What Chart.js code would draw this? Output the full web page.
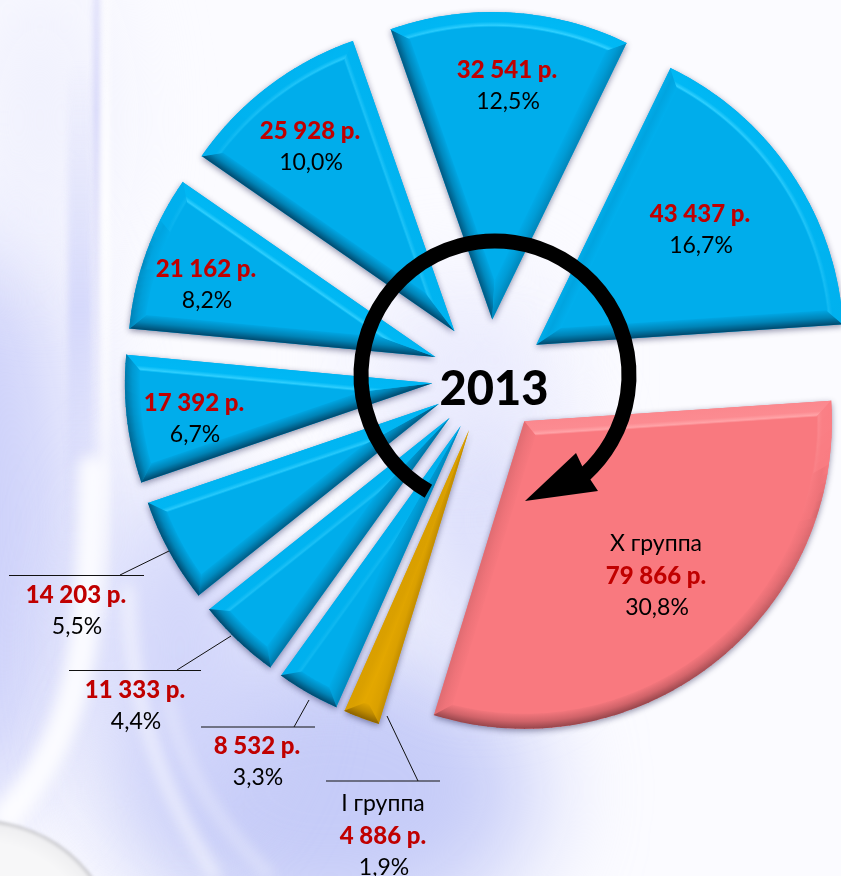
<!DOCTYPE html>
<html><head><meta charset="utf-8">
<style>html,body{margin:0;padding:0;background:#fff}canvas{display:block}</style>
<script src="https://cdn.jsdelivr.net/npm/chart.js@4"></script>
</head><body><canvas id="c" width="841" height="876"></canvas>
<script>
const categories = ['X группа','I группа','II группа','III группа','IV группа','V группа','VI группа','VII группа','VIII группа','IX группа'];
const rubles = [79866,4886,8532,11333,14203,17392,21162,25928,32541,43437];
const rubleLabels = ['79 866 р.','4 886 р.','8 532 р.','11 333 р.','14 203 р.','17 392 р.','21 162 р.','25 928 р.','32 541 р.','43 437 р.'];
const shareLabels = ['30,8%','1,9%','3,3%','4,4%','5,5%','6,7%','8,2%','10,0%','12,5%','16,7%'];
const groupNames = ['X группа','I группа','','','','','','','',''];
const sliceColors = ['#F9797F','#E2A600','#00ADEB','#00ADEB','#00ADEB','#00ADEB','#00ADEB','#00ADEB','#00ADEB','#00ADEB'];
const yearLabel = '2013';

const FONT = '"Lato","Open Sans",sans-serif';
const EXPLODE = 57, BEVEL = 15;
const labelCenters = [[656,544],[383,804],[257,746],[135,690],[76,595],[194,403],[206,269],[310,131],[507,70],[700,214]];
const LINE_GAP = 32;
const leaders = [null,[[326,781,440,781],[418,781,387,716]],[[201,727,315,727],[294,727,309,700]],[[69,670.5,201,670.5],[177,670,231,636]],[[9,575.5,144,575.5],[120,575,169,551]]];

const palette = {
 '#00ADEB':{hi:[48,208,255],lt:[0,186,246],dk:[0,62,96]},
 '#F9797F':{hi:[255,166,170],lt:[252,142,148],dk:[140,64,70]},
 '#E2A600':{hi:[255,190,0],lt:[246,182,0],dk:[130,92,0]}
};
const hex=h=>[1,3,5].map(i=>parseInt(h.substr(i,2),16));
const mix=(a,b,t)=>`rgb(${a.map((v,i)=>Math.round(v+(b[i]-v)*t)).join(',')})`;
const LIGHT=[0.3,-0.95];
function addStops(g,base,p,k){
  const s=(t,c)=>g.addColorStop(t,c);
  if(k>=0.15){ s(0,mix(base,p.lt,k*.4)); s(.12,mix(base,p.hi,k)); s(.36,mix(base,p.lt,k*.9)); s(1,mix(base,p.lt,k*.75)); }
  else if(k>=0){ s(0,mix(base,p.lt,k)); s(.6,mix(base,p.dk,.08)); s(1,mix(base,p.dk,.35*(1-k/.15))); }
  else { const m=Math.min(1,-k+.25); s(0,mix(base,p.dk,m*.06)); s(.5,mix(base,p.dk,m*.38)); s(1,mix(base,p.dk,m*.9)); }
}
const bevelPlugin={
 id:'bevel',
 afterDatasetsUpdate(chart){
  chart.getDatasetMeta(0).data.forEach(el=>{
    const m=(el.startAngle+el.endAngle)/2;
    el.x=chart.chartArea.left+chart.chartArea.width/2+Math.cos(m)*EXPLODE;
    el.y=chart.chartArea.top+chart.chartArea.height/2+Math.sin(m)*EXPLODE;
  });
 },
 beforeDatasetsDraw(chart){
  const c=chart.ctx; c.save();
  c.shadowColor='rgba(10,10,60,.45)'; c.shadowBlur=6; c.shadowOffsetX=0; c.shadowOffsetY=2;
 },
 afterDatasetsDraw(chart){
  const c=chart.ctx; c.restore();
  chart.getDatasetMeta(0).data.forEach((el,i)=>{
    const col=sliceColors[i], base=hex(col), p=palette[col];
    const a0=el.startAngle,a1=el.endAngle,R=el.outerRadius,Ax=el.x,Ay=el.y;
    const half=(a1-a0)/2, mid=(a0+a1)/2, b=BEVEL, d=b/Math.sin(half), r=R-b;
    const IAx=Ax+Math.cos(mid)*d, IAy=Ay+Math.sin(mid)*d;
    const t=-d*Math.cos(half)+Math.sqrt(r*r-b*b);
    const I0x=IAx+Math.cos(a0)*t,I0y=IAy+Math.sin(a0)*t,I1x=IAx+Math.cos(a1)*t,I1y=IAy+Math.sin(a1)*t;
    const ai0=Math.atan2(I0y-Ay,I0x-Ax), ai1=Math.atan2(I1y-Ay,I1x-Ax);
    let ai0u=ai0; while(ai0u<a0-1)ai0u+=2*Math.PI; while(ai0u>a0+1)ai0u-=2*Math.PI;
    let ai1u=ai1; while(ai1u<a1-1)ai1u+=2*Math.PI; while(ai1u>a1+1)ai1u-=2*Math.PI;
    const strip=(ang,sgn,Ix,Iy)=>{
      const nx=Math.cos(ang+sgn*Math.PI/2),ny=Math.sin(ang+sgn*Math.PI/2);
      const k=nx*LIGHT[0]+ny*LIGHT[1];
      const g=c.createLinearGradient(Ax-nx*b,Ay-ny*b,Ax,Ay);
      addStops(g,base,p,k);
      c.beginPath();c.moveTo(Ax,Ay);c.lineTo(Ax+Math.cos(ang)*R,Ay+Math.sin(ang)*R);
      c.lineTo(Ix,Iy);c.lineTo(IAx,IAy);c.closePath();c.fillStyle=g;c.fill();
    };
    strip(a0,-1,I0x,I0y); strip(a1,1,I1x,I1y);
    const N=Math.max(6,Math.ceil((a1-a0)/0.03));
    for(let n=0;n<N;n++){
      const u0=n/N,u1=(n+1)/N,o0=a0+(a1-a0)*u0,o1=a0+(a1-a0)*u1,
            q0=ai0u+(ai1u-ai0u)*u0,q1=ai0u+(ai1u-ai0u)*u1,om=(o0+o1)/2;
      const k=Math.cos(om)*LIGHT[0]+Math.sin(om)*LIGHT[1];
      const g=c.createRadialGradient(Ax,Ay,r,Ax,Ay,R);
      addStops(g,base,p,k);
      c.beginPath();c.arc(Ax,Ay,R,o0-.002,o1+.002);c.arc(Ax,Ay,r,q1+.002,q0-.002,true);c.closePath();c.fillStyle=g;c.fill();
    }
  });
  drawArrow(chart); drawText(chart);
 }
};
function drawArrow(chart){
  const c=chart.ctx; c.save();
  c.strokeStyle='#000'; c.lineWidth=15; c.lineCap='butt';
  c.beginPath(); c.arc(495,375,134,119.8*Math.PI/180,408*Math.PI/180); c.stroke();
  c.fillStyle='#000'; c.beginPath(); c.moveTo(525,501); c.lineTo(576,453); c.lineTo(584,470); c.lineTo(598,491); c.closePath(); c.fill();
  c.restore();
}
function drawText(chart){
  const c=chart.ctx; c.save();
  c.textAlign='center'; c.textBaseline='middle';
  c.strokeStyle='#111'; c.lineWidth=1;
  leaders.forEach(l=>{ if(!l)return; l.forEach(s=>{c.beginPath();c.moveTo(s[0],s[1]);c.lineTo(s[2],s[3]);c.stroke();}); });
  labelCenters.forEach((p,i)=>{
    let y=p[1];
    if(groupNames[i]){ c.font='23px '+FONT; c.fillStyle='#000'; c.fillText(groupNames[i],p[0],y); y+=LINE_GAP; }
    c.font='900 24px '+FONT; c.fillStyle='#C00000'; c.fillText(rubleLabels[i],p[0],y); y+=LINE_GAP;
    c.font='23px '+FONT; c.fillStyle='#000'; c.fillText(shareLabels[i],p[0]+1,y);
  });
  c.font='900 47px '+FONT; c.fillStyle='#000'; c.fillText(yearLabel,494,390);
  c.restore();
}
const bgPlugin={
 id:'bg',
 beforeDraw(chart){
  const c=chart.ctx,W=841,H=876; c.save();
  c.fillStyle='#FBFBFF'; c.fillRect(0,0,W,H);
  const blob=(x,y,rx,ry,col)=>{c.fillStyle=col;c.beginPath();c.ellipse(x,y,rx,ry,0,0,7);c.fill();};
  c.filter='blur(50px)';
  blob(-30,520,110,300,'#CDD1FA');
  blob(40,120,60,160,'#EEEFFD');
  blob(330,790,210,150,'#C6CCF8');
  blob(180,650,80,170,'#D0D4FA');
  blob(480,520,70,140,'#D8DBFB');
  blob(460,360,90,70,'#E8E9FD');
  c.filter='blur(3px)';
  const fade=(x,y0,y1,col0,col1)=>{const g=c.createLinearGradient(0,y0,0,y1);g.addColorStop(0,col0);g.addColorStop(.5,col1);g.addColorStop(1,col0);return g;};
  const bar=(x,w,y0,y1,col0,col1)=>{c.fillStyle=fade(x,y0,y1,col0,col1);c.fillRect(x,y0,w,y1-y0);};
  bar(68,24,60,560,'rgba(205,209,250,0)','rgba(205,209,250,.75)');
  bar(94,6,-200,420,'rgba(205,206,248,.1)','rgba(205,206,248,.95)');
  bar(101,9,-200,620,'rgba(255,255,255,.1)','rgba(255,255,255,.9)');
  c.filter='blur(7px)';
  const streak=(pts,w,col)=>{c.strokeStyle=col;c.lineWidth=w;c.lineCap='round';c.beginPath();c.moveTo(pts[0],pts[1]);c.bezierCurveTo(pts[2],pts[3],pts[4],pts[5],pts[6],pts[7]);c.stroke();};
  streak([92,470,92,620,85,730,8,815],28,'rgba(255,255,255,.85)');
  streak([128,590,130,660,140,760,215,876],9,'rgba(255,255,255,.75)');
  streak([168,700,180,760,215,820,270,876],7,'rgba(255,255,255,.5)');
  c.filter='blur(1.5px)';
  const g=c.createRadialGradient(-20,960,118,-20,960,140);
  g.addColorStop(0,'#F7F7F8');g.addColorStop(.8,'#EFEFF1');g.addColorStop(1,'#BDBDC2');
  c.fillStyle=g;c.beginPath();c.arc(-20,960,140,0,7);c.fill();
  c.restore();
 }
};
new Chart(document.getElementById('c'),{
 type:'pie',
 data:{labels:categories,datasets:[{data:rubles,backgroundColor:sliceColors,borderWidth:0,hoverOffset:0}]},
 options:{responsive:false,animation:false,rotation:86.2,events:[],
  layout:{padding:{left:181.5,right:44.5,top:69,bottom:192}},
  plugins:{legend:{display:false},tooltip:{enabled:false},title:{display:false}}},
 plugins:[bgPlugin,bevelPlugin]
});
</script></body></html>
